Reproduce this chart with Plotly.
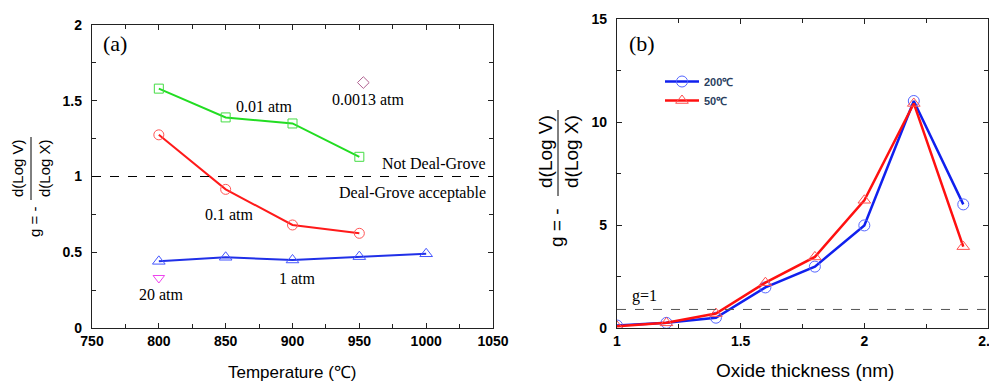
import plotly.graph_objects as go

# ---------------- data: panel (a) ----------------
temp_001 = [800, 850, 900, 950]
g_001 = [1.58, 1.39, 1.35, 1.13]
temp_01 = [800, 850, 900, 950]
g_01 = [1.275, 0.915, 0.68, 0.625]
temp_1 = [800, 850, 900, 950, 1000]
g_1 = [0.44, 0.467, 0.449, 0.471, 0.49]
temp_20 = [800]
g_20 = [0.33]
temp_00013 = [953]
g_00013 = [1.62]
dg_limit = 1.0

# ---------------- data: panel (b) ----------------
thick = [1.0, 1.2, 1.4, 1.6, 1.8, 2.0, 2.2, 2.4]
g_200C = [0.12, 0.25, 0.5, 1.97, 2.98, 4.98, 11.02, 6.0]
g_50C = [0.08, 0.25, 0.7, 2.2, 3.45, 6.2, 10.9, 3.95]
g_ref_b = 0.9

# the page body has an 8px margin, so the figure is drawn from (8, 8)
OFF = 8
W, H = 997 - OFF, 381 - OFF
def px(x):
    return (x - OFF) / W
def py(y):
    return 1 - (y - OFF) / H

SERIF = "Liberation Serif"
SANS = "Liberation Sans"

fig = go.Figure()

def mk(symbol, color, size=10):
    return dict(symbol=symbol, size=size, color=color, line=dict(color=color, width=1))

fig.add_trace(go.Scatter(x=temp_001, y=g_001, mode="lines+markers",
                         line=dict(color="#22dd22", width=2),
                         marker=mk("square-open", "#44dd44", 9),
                         xaxis="x", yaxis="y", showlegend=False))
fig.add_trace(go.Scatter(x=temp_01, y=g_01, mode="lines+markers",
                         line=dict(color="#ff1a1a", width=2),
                         marker=mk("circle-open", "#ff5555"),
                         xaxis="x", yaxis="y", showlegend=False))
fig.add_trace(go.Scatter(x=temp_1, y=g_1, mode="lines+markers",
                         line=dict(color="#2030e8", width=2),
                         marker=mk("triangle-up-open", "#4455ff", 11),
                         xaxis="x", yaxis="y", showlegend=False))
fig.add_trace(go.Scatter(x=temp_20, y=g_20, mode="markers",
                         marker=mk("triangle-down-open", "#ee44ee"),
                         xaxis="x", yaxis="y", showlegend=False))
fig.add_trace(go.Scatter(x=temp_00013, y=g_00013, mode="markers",
                         marker=mk("diamond-open", "#b06090", 9),
                         xaxis="x", yaxis="y", showlegend=False))

fig.add_trace(go.Scatter(x=thick, y=g_200C, mode="lines+markers", name="200℃",
                         line=dict(color="#1020ee", width=2.5),
                         marker=mk("circle-open", "#5566ff", 11),
                         xaxis="x2", yaxis="y2"))
fig.add_trace(go.Scatter(x=thick, y=g_50C, mode="lines+markers", name="50℃",
                         line=dict(color="#ff1010", width=2.5),
                         marker=mk("triangle-up-open", "#ff5050", 11),
                         xaxis="x2", yaxis="y2"))

tickfont = dict(family=SANS, size=14, color="black", weight="bold")
common = dict(showline=True, linecolor="#222", linewidth=1.3, mirror="allticks",
              ticks="inside", ticklen=5, tickcolor="#222", showgrid=False,
              zeroline=False, tickfont=tickfont, automargin=False,
              ticklabeloverflow="allow")

fig.update_layout(
    width=W, height=H, margin=dict(l=0, r=0, t=0, b=0, autoexpand=False),
    paper_bgcolor="white", plot_bgcolor="white",
    xaxis=dict(domain=[px(92), px(493)], range=[750, 1050], dtick=50, tick0=750,
               minor=dict(ticks="inside", dtick=25, ticklen=4, tickcolor="#222"),
               anchor="y", **common),
    yaxis=dict(domain=[py(328), py(25)], range=[0, 2], dtick=0.5,
               minor=dict(ticks="inside", dtick=0.25, ticklen=4, tickcolor="#222"),
               anchor="x", ticklabelstandoff=6, **common),
    xaxis2=dict(domain=[px(617), px(988)], range=[1, 2.5], dtick=0.5, tick0=1,
                minor=dict(ticks="inside", dtick=0.25, ticklen=4, tickcolor="#222"),
                anchor="y2", **common),
    yaxis2=dict(domain=[py(328), py(19)], range=[0, 15], dtick=5,
                minor=dict(ticks="inside", dtick=2.5, ticklen=4, tickcolor="#222"),
                anchor="x2", ticklabelstandoff=6, **common),
    legend=dict(x=px(660), y=py(67), xanchor="left", yanchor="top",
                bgcolor="rgba(0,0,0,0)", font=dict(family=SANS, size=11, weight="bold"),
                itemwidth=34, tracegroupgap=0),
)

fig.add_shape(type="line", xref="x", yref="y", x0=750, x1=1050, y0=dg_limit, y1=dg_limit,
              line=dict(color="black", width=1.2, dash="dash"))
fig.add_shape(type="line", xref="x2", yref="y2", x0=1, x1=2.5, y0=g_ref_b, y1=g_ref_b,
              line=dict(color="#555", width=1, dash="dash"))

ann = []
def A(text, x, y, xref, yref, size, family=SERIF, xanchor="center", angle=0, **kw):
    ann.append(dict(text=text, x=x, y=y, xref=xref, yref=yref, showarrow=False,
                    font=dict(family=family, size=size, color="black", **kw),
                    xanchor=xanchor, yanchor="middle", textangle=angle))

# panel (a) labels
A("(a)", 757, 1.88, "x", "y", 22, xanchor="left")
A("0.01 atm", 879, 1.459, "x", "y", 16)
A("0.0013 atm", 957, 1.505, "x", "y", 16)
A("Not Deal-Grove", 1046, 1.083, "x", "y", 16, xanchor="right")
A("Deal-Grove acceptable", 1046, 0.891, "x", "y", 16, xanchor="right")
A("0.1 atm", 853, 0.746, "x", "y", 16)
A("1 atm", 904, 0.33, "x", "y", 16)
A("20 atm", 802, 0.218, "x", "y", 16)

# panel (b) labels
A("(b)", 1.04, 13.83, "x2", "y2", 22, xanchor="left")
A("g=1", 1.053, 1.55, "x2", "y2", 16, xanchor="left")

# axis titles
A("Temperature (℃)", px(292), py(372), "paper", "paper", 17, family=SANS)
A("Oxide thickness (nm)", px(805), py(370), "paper", "paper", 19, family=SANS)

# y titles (a)
A("d(Log V)", px(17), py(168), "paper", "paper", 15, family=SANS, angle=-90)
A("d(Log X)", px(44), py(168), "paper", "paper", 15, family=SANS, angle=-90)
A("g = -", px(34), py(222), "paper", "paper", 15, family=SANS, angle=-90)
# y titles (b)
A("d(Log V)", px(545), py(152), "paper", "paper", 19, family=SANS, angle=-90)
A("d(Log X)", px(571), py(152), "paper", "paper", 19, family=SANS, angle=-90)
A("g = -", px(557), py(228), "paper", "paper", 19, family=SANS, angle=-90)

fig.update_layout(annotations=ann)
fig.add_shape(type="line", xref="paper", yref="paper", x0=px(31), x1=px(31),
              y0=py(137), y1=py(200), line=dict(color="black", width=1))
fig.add_shape(type="line", xref="paper", yref="paper", x0=px(558), x1=px(558),
              y0=py(110), y1=py(196), line=dict(color="black", width=1))

fig.write_html("out.html")
